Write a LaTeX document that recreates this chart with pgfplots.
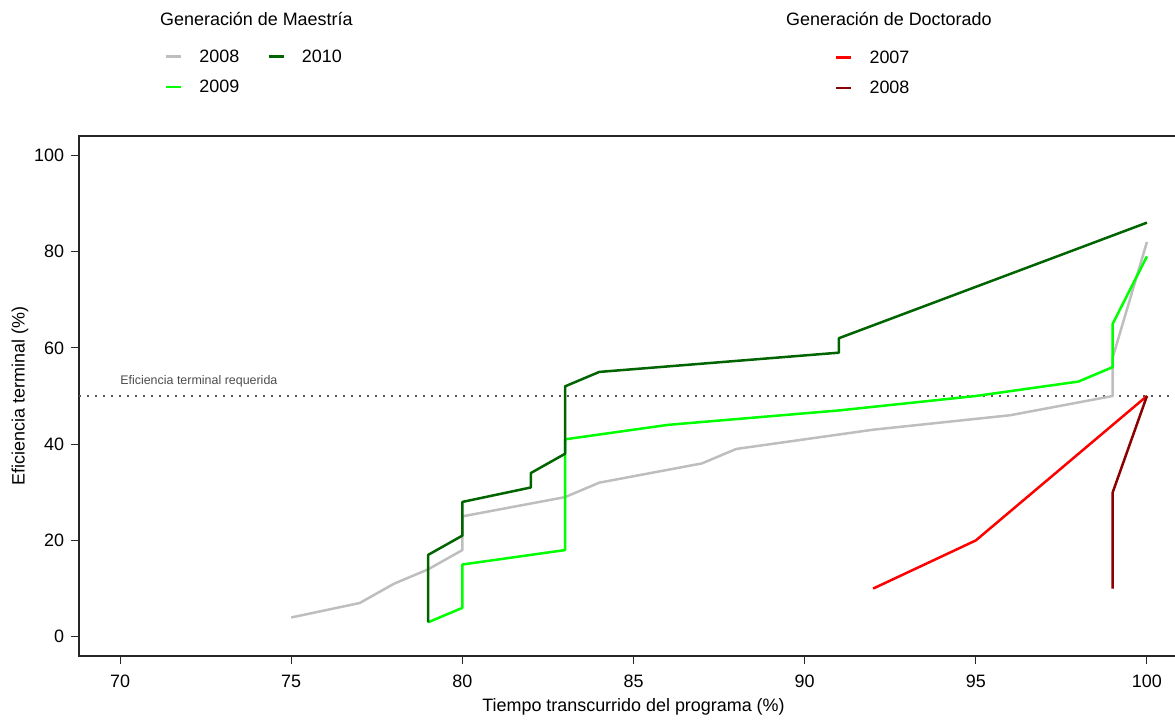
\documentclass[border=0pt]{standalone}
\usepackage{fontspec}
\setmainfont{Liberation Sans}
\usepackage{pgfplots}
\pgfplotsset{compat=1.18}
\definecolor{cgray}{HTML}{BEBEBE}
\definecolor{cgreen}{HTML}{00FF00}
\definecolor{cdkgreen}{HTML}{006400}
\definecolor{cred}{HTML}{FF0000}
\definecolor{cdkred}{HTML}{8B0000}
\definecolor{cdot}{HTML}{555555}

\begin{document}
\begin{tikzpicture}
\useasboundingbox (0,0) rectangle (1175bp,721bp);
\pgfplotsset{
  base/.style={
    at={(79bp,65bp)}, anchor=south west,
    scale only axis, width=1109bp, height=520bp,
    xmin=68.8, xmax=101.2, ymin=-4, ymax=104,
  },
  leg/.style={
    legend style={draw=none, fill=none, inner sep=0pt, outer sep=0pt,
      font=\fontsize{18}{21}\selectfont,
      nodes={inner sep=0pt, outer sep=0pt},
      column sep=17bp, row sep=16.5bp},
    legend cell align=left,
    legend image code/.code={\draw[##1, line width=2.5bp] (0bp,0bp) -- (15bp,0bp);},
  },
}
\begin{axis}[base, leg,
  axis line style={black!85, line width=1.1bp},
  tick style={black!85, line width=1.1bp},
  tick align=outside, tick pos=left, major tick length=7.5bp,
  xtick={70,75,...,100}, ytick={0,20,...,100},
  /pgf/number format/assume math mode=true,
  ticklabel style={font=\fontsize{18}{21}\selectfont},
  xticklabel style={yshift=-8bp},
  yticklabel style={xshift=-4bp},
  label style={font=\fontsize{18}{21}\selectfont},
  xlabel={Tiempo transcurrido del programa (\%)},
  ylabel={Eficiencia terminal (\%)},
  xlabel style={at={(axis description cs:0.5,-0.098)}, anchor=center},
  ylabel style={at={(axis description cs:-0.0532,0.5)}, anchor=center},
  legend columns=2,
  legend style={at={(axis description cs:0.0775,1.1663)}, anchor=north west,
    /tikz/every even column/.append style={column sep=28bp}},
  every axis plot/.append style={line width=2.5bp, line join=round},
]
% required terminal efficiency
\addplot[cdot, line width=1.6bp, dash pattern=on 1.6bp off 6.4bp, forget plot] coordinates {(68.8,50) (101.2,50)};
\node[anchor=base west, inner sep=0pt, text=black!70, font=\fontsize{12.5}{14}\selectfont] at (axis cs:70,52.4) {Eficiencia terminal requerida};
% Maestria 2008
\addplot[cgray, forget plot] coordinates {
(75,4) (77,7) (78,11) (79,14) (80,18) (80,25) (83,29) (84,32) (87,36) (88,39) (92,43) (96,46) (99,50) (99,58) (100,82)};
% Maestria 2009
\addplot[cgreen, forget plot] coordinates {
(79,3) (80,6) (80,15) (83,18) (83,41) (86,44) (91,47) (95,50) (98,53) (99,56) (99,65) (100,79)};
% Maestria 2010
\addplot[cdkgreen, forget plot] coordinates {
(79,3) (79,17) (80,21) (80,28) (82,31) (82,34) (83,38) (83,52) (84,55) (91,59) (91,62) (100,86)};
\addlegendimage{cgray}\addlegendentry{2008}
\addlegendimage{cdkgreen}\addlegendentry{2010}
\addlegendimage{cgreen}\addlegendentry{2009}
\end{axis}
\begin{axis}[base, leg, hide axis,
  legend columns=1,
  legend style={at={(axis description cs:0.6817,1.1644)}, anchor=north west},
  every axis plot/.append style={line width=2.5bp, line join=round},
]
% Doctorado 2007
\addplot[cred] coordinates {(92,10) (95,20) (100,50)};
\addlegendentry{2007}
% Doctorado 2008
\addplot[cdkred] coordinates {(99,10) (99,30) (100,50)};
\addlegendentry{2008}
\end{axis}
\node[anchor=base west, inner sep=0pt, font=\fontsize{18}{21}\selectfont] at (160bp,695.7bp) {Generación de Maestría};
\node[anchor=base west, inner sep=0pt, font=\fontsize{18}{21}\selectfont] at (786bp,695.7bp) {Generación de Doctorado};
\end{tikzpicture}
\end{document}
